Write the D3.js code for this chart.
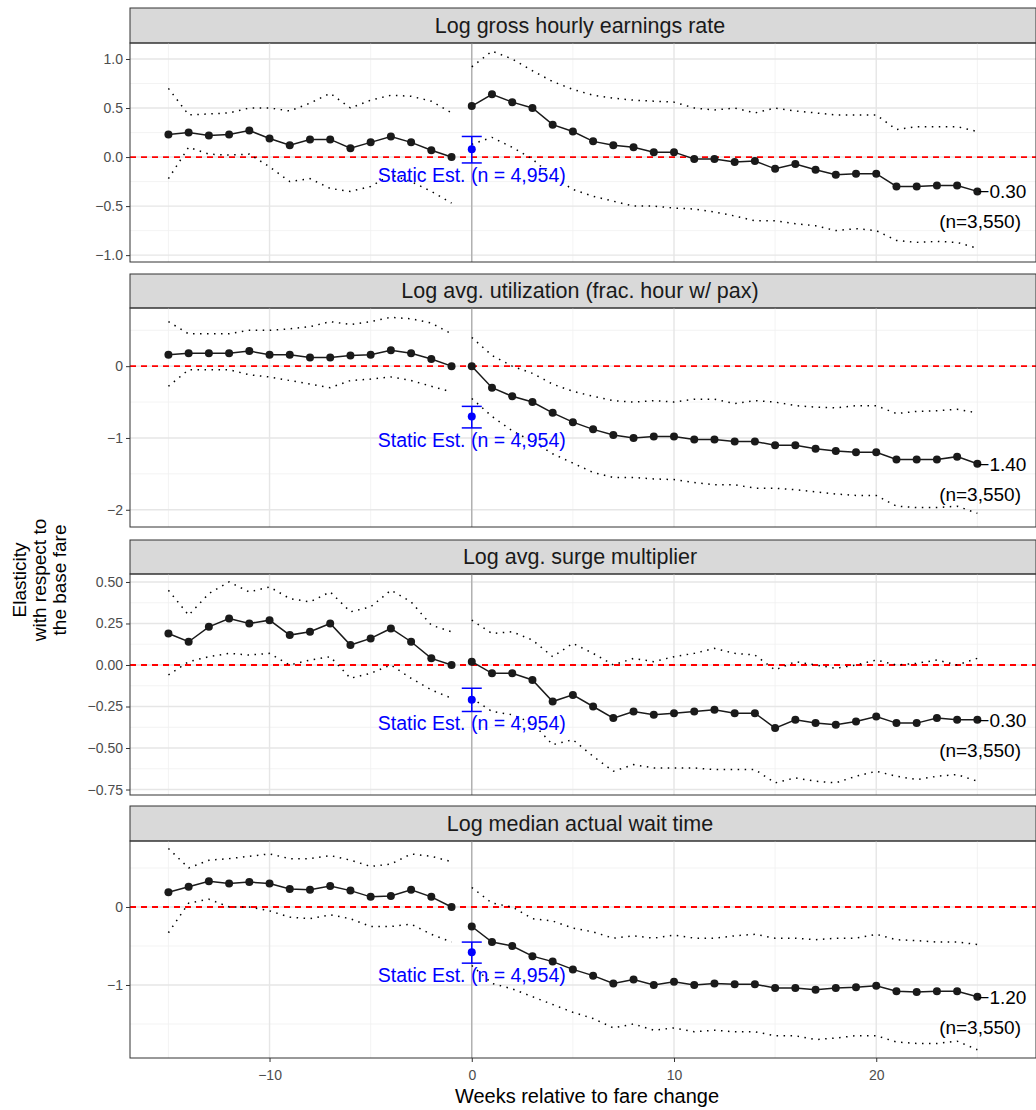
<!DOCTYPE html>
<html><head><meta charset="utf-8">
<script src="https://cdn.jsdelivr.net/npm/d3@7"></script>
<style>body{margin:0;background:#fff;font-family:"Liberation Sans",Arial,sans-serif}</style>
</head><body><svg id="c" width="1036" height="1110"></svg>
<script>
const weeks = d3.range(-15, 26);
const titles = ["Log gross hourly earnings rate","Log avg. utilization (frac. hour w/ pax)","Log avg. surge multiplier","Log median actual wait time"];
const est = [
 [0.23,0.25,0.22,0.23,0.27,0.19,0.12,0.18,0.18,0.09,0.15,0.21,0.15,0.07,0, 0.52,0.64,0.56,0.50,0.33,0.26,0.16,0.12,0.10,0.05,0.05,-0.02,-0.02,-0.05,-0.04,-0.12,-0.07,-0.13,-0.18,-0.17,-0.17,-0.30,-0.30,-0.29,-0.29,-0.35],
 [0.16,0.18,0.18,0.18,0.21,0.16,0.16,0.12,0.12,0.15,0.16,0.22,0.18,0.10,0, 0,-0.30,-0.42,-0.50,-0.65,-0.78,-0.88,-0.96,-1.00,-0.98,-0.98,-1.02,-1.02,-1.05,-1.05,-1.10,-1.10,-1.15,-1.18,-1.20,-1.20,-1.30,-1.30,-1.30,-1.26,-1.36],
 [0.19,0.14,0.23,0.28,0.25,0.27,0.18,0.20,0.25,0.12,0.16,0.22,0.14,0.04,0, 0.02,-0.05,-0.05,-0.09,-0.22,-0.18,-0.25,-0.32,-0.28,-0.30,-0.29,-0.28,-0.27,-0.29,-0.29,-0.38,-0.33,-0.35,-0.36,-0.34,-0.31,-0.35,-0.35,-0.32,-0.33,-0.33],
 [0.19,0.26,0.33,0.30,0.32,0.30,0.23,0.22,0.27,0.21,0.13,0.14,0.22,0.13,0, -0.25,-0.45,-0.50,-0.63,-0.70,-0.80,-0.88,-0.98,-0.93,-1.00,-0.96,-1.00,-0.98,-0.99,-0.99,-1.04,-1.04,-1.06,-1.04,-1.03,-1.01,-1.08,-1.09,-1.08,-1.08,-1.15]
];
const upper = [
 [0.70,0.43,0.44,0.45,0.50,0.50,0.47,0.55,0.65,0.50,0.58,0.63,0.62,0.57,0.45, 0.92,1.08,1.00,0.88,0.77,0.69,0.63,0.60,0.58,0.57,0.56,0.50,0.48,0.50,0.45,0.50,0.47,0.45,0.43,0.43,0.43,0.28,0.31,0.31,0.31,0.26],
 [0.62,0.45,0.45,0.45,0.50,0.50,0.52,0.55,0.62,0.58,0.62,0.68,0.66,0.60,0.45, 0.40,0.15,0,-0.10,-0.25,-0.35,-0.42,-0.48,-0.50,-0.48,-0.50,-0.46,-0.46,-0.52,-0.48,-0.50,-0.55,-0.57,-0.58,-0.55,-0.55,-0.66,-0.63,-0.62,-0.60,-0.65],
 [0.45,0.30,0.43,0.50,0.44,0.47,0.40,0.38,0.44,0.32,0.35,0.45,0.38,0.24,0.20, 0.27,0.19,0.20,0.15,0.05,0.13,0.07,0,0.04,0.02,0.05,0.07,0.10,0.07,0.06,-0.03,0.02,0,-0.02,0,0.03,0,0.01,0.03,0,0.04],
 [0.75,0.50,0.60,0.62,0.65,0.68,0.62,0.62,0.66,0.60,0.52,0.55,0.68,0.65,0.58, 0.25,0.05,0,-0.15,-0.18,-0.27,-0.32,-0.40,-0.37,-0.40,-0.36,-0.40,-0.40,-0.37,-0.35,-0.40,-0.40,-0.42,-0.40,-0.40,-0.35,-0.42,-0.43,-0.45,-0.45,-0.48]
];
const lower = [
 [-0.22,0.10,0.03,0.02,0.03,-0.10,-0.25,-0.22,-0.32,-0.35,-0.30,-0.18,-0.25,-0.35,-0.47, 0.13,0.20,0.10,-0.02,-0.20,-0.33,-0.40,-0.45,-0.50,-0.50,-0.52,-0.53,-0.56,-0.60,-0.65,-0.65,-0.68,-0.70,-0.75,-0.73,-0.75,-0.85,-0.87,-0.86,-0.87,-0.93],
 [-0.28,-0.05,-0.05,-0.05,-0.12,-0.15,-0.20,-0.25,-0.30,-0.20,-0.18,-0.15,-0.20,-0.28,-0.36, -0.45,-0.70,-0.90,-1.05,-1.22,-1.35,-1.48,-1.55,-1.55,-1.57,-1.58,-1.62,-1.65,-1.65,-1.70,-1.70,-1.72,-1.75,-1.78,-1.80,-1.80,-1.95,-1.97,-1.97,-1.95,-2.05],
 [-0.06,0.02,0.05,0.07,0.06,0.07,0,0.03,0.05,-0.08,-0.05,0,-0.08,-0.15,-0.20, -0.20,-0.28,-0.30,-0.35,-0.48,-0.45,-0.55,-0.64,-0.60,-0.62,-0.62,-0.62,-0.63,-0.63,-0.63,-0.71,-0.68,-0.70,-0.71,-0.67,-0.64,-0.67,-0.69,-0.67,-0.66,-0.70],
 [-0.33,0.05,0.10,0,0,-0.05,-0.13,-0.15,-0.10,-0.15,-0.25,-0.25,-0.22,-0.35,-0.45, -0.75,-0.98,-1.05,-1.15,-1.25,-1.35,-1.43,-1.55,-1.50,-1.58,-1.55,-1.60,-1.58,-1.60,-1.60,-1.65,-1.65,-1.70,-1.68,-1.65,-1.65,-1.73,-1.75,-1.75,-1.72,-1.83]
];
const staticEst = [0.08,-0.70,-0.21,-0.58];
const staticLo = [-0.06,-0.86,-0.28,-0.72];
const staticHi = [0.21,-0.56,-0.14,-0.45];
const endLabels = ["-0.30","-1.40","-0.30","-1.20"];
const yDomains = [[-1.07,1.163],[-2.24,0.81],[-0.783,0.548],[-1.936,0.846]];
const yTicks = [[-1,-0.5,0,0.5,1],[-2,-1,0],[-0.75,-0.5,-0.25,0,0.25,0.5],[-1,0]];
const yFmt = [d3.format(".1f"), d3.format("d"), d3.format(".2f"), d3.format("d")];
const xTicks = [-10,0,10,20];

const svg = d3.select("#c");
const L = 130, R = 1036;
const panels = [[8,43,262],[274,308,527],[540,574,795],[806,841,1058]];
const x = d3.scaleLinear().domain([-16.9,27.9]).range([L,R]);
const minus = s => s.replace("-","\u2212");

panels.forEach(([st,top,bot],i)=>{
  const y = d3.scaleLinear().domain(yDomains[i]).range([bot,top]);
  const g = svg.append("g");
  // strip
  g.append("rect").attr("x",L).attr("y",st).attr("width",R-L).attr("height",top-st)
    .attr("fill","#d9d9d9").attr("stroke","#333").attr("stroke-width",1);
  g.append("text").attr("x",(L+R)/2-3).attr("y",(st+top)/2+7).attr("text-anchor","middle")
    .attr("font-size",21.5).attr("fill","#1a1a1a").text(titles[i]);
  // grid
  const tk = yTicks[i];
  const minors = [];
  for(let k=0;k<tk.length-1;k++) minors.push((tk[k]+tk[k+1])/2);
  const st2 = tk[1]-tk[0];
  [tk[0]-st2/2, tk[tk.length-1]+st2/2].forEach(v=>{ if(v>yDomains[i][0]&&v<yDomains[i][1]) minors.push(v); });
  g.selectAll(".ym").data(minors).join("line").attr("x1",L).attr("x2",R).attr("y1",d=>y(d)).attr("y2",d=>y(d))
    .attr("stroke","#f0f0f0").attr("stroke-width",0.8);
  g.selectAll(".xm").data([-15,-5,5,15,25]).join("line").attr("y1",top).attr("y2",bot).attr("x1",d=>x(d)).attr("x2",d=>x(d))
    .attr("stroke","#f0f0f0").attr("stroke-width",0.8);
  g.selectAll(".yM").data(tk).join("line").attr("x1",L).attr("x2",R).attr("y1",d=>y(d)).attr("y2",d=>y(d))
    .attr("stroke","#e6e6e6").attr("stroke-width",1.4);
  g.selectAll(".xM").data(xTicks).join("line").attr("y1",top).attr("y2",bot).attr("x1",d=>x(d)).attr("x2",d=>x(d))
    .attr("stroke","#e6e6e6").attr("stroke-width",1.4);
  // zero lines
  g.append("line").attr("x1",x(0)).attr("x2",x(0)).attr("y1",top).attr("y2",bot).attr("stroke","#a6a6a6").attr("stroke-width",1.2);
  g.append("line").attr("x1",L).attr("x2",R).attr("y1",y(0)).attr("y2",y(0)).attr("stroke","#ff0000")
    .attr("stroke-width",1.8).attr("stroke-dasharray","6,5");
  // y axis
  const ax = g.append("g").attr("transform",`translate(${L},0)`)
    .call(d3.axisLeft(y).tickValues(tk).tickFormat(d=>minus(yFmt[i](d))).tickSize(4));
  ax.select(".domain").remove();
  ax.selectAll("line").attr("stroke","#333");
  ax.selectAll("text").attr("font-size",14).attr("fill","#4d4d4d").attr("font-family","Liberation Sans, Arial");
  // lines by segment (pre / post)
  const pts = weeks.map((w,k)=>({w,e:est[i][k],u:upper[i][k],l:lower[i][k]}));
  const pre = pts.filter(d=>d.w<0), post = pts.filter(d=>d.w>=0);
  [pre,post].forEach(seg=>{
    ["u","l"].forEach(key=>{
      g.append("path").datum(seg).attr("d",d3.line().x(d=>x(d.w)).y(d=>y(d[key])))
        .attr("fill","none").attr("stroke","#000").attr("stroke-width",1.5).attr("stroke-dasharray","1.5,5.5");
    });
    g.append("path").datum(seg).attr("d",d3.line().x(d=>x(d.w)).y(d=>y(d.e)))
      .attr("fill","none").attr("stroke","#1a1a1a").attr("stroke-width",1.5);
  });
  g.selectAll(".pt").data(pts).join("circle").attr("cx",d=>x(d.w)).attr("cy",d=>y(d.e)).attr("r",4).attr("fill","#1a1a1a");
  // static estimate
  const sx = x(0);
  g.append("line").attr("x1",sx).attr("x2",sx).attr("y1",y(staticLo[i])).attr("y2",y(staticHi[i])).attr("stroke","#0000ff").attr("stroke-width",1.5);
  [staticLo[i],staticHi[i]].forEach(v=>g.append("line").attr("x1",sx-10).attr("x2",sx+10).attr("y1",y(v)).attr("y2",y(v)).attr("stroke","#0000ff").attr("stroke-width",1.5));
  g.append("circle").attr("cx",sx).attr("cy",y(staticEst[i])).attr("r",4).attr("fill","#0000ff");
  g.append("text").attr("x",sx).attr("y",y(staticLo[i])+19).attr("text-anchor","middle")
    .attr("font-size",19.5).attr("fill","#0000ff").text("Static Est. (n = 4,954)");
  // end labels
  const last = pts[pts.length-1];
  g.append("text").attr("x",x(25)+1).attr("y",y(last.e)+7).attr("font-size",19).attr("fill","#000").text(minus(endLabels[i]));
  g.append("text").attr("x",1021).attr("y",y(last.e)+37).attr("text-anchor","end").attr("font-size",19).attr("fill","#000").text("(n=3,550)");
  // border
  g.append("rect").attr("x",L).attr("y",top).attr("width",R-L).attr("height",bot-top).attr("fill","none").attr("stroke","#333").attr("stroke-width",1);
});

// x axis
const xa = svg.append("g").attr("transform",`translate(0,1058)`).call(d3.axisBottom(x).tickValues(xTicks).tickFormat(d=>minus(String(d))).tickSize(4));
xa.select(".domain").remove();
xa.selectAll("line").attr("stroke","#333");
xa.selectAll("text").attr("font-size",14).attr("fill","#4d4d4d").attr("dy","1.1em");
svg.append("text").attr("x",587).attr("y",1103).attr("text-anchor","middle").attr("font-size",20).text("Weeks relative to fare change");
const yt = svg.append("text").attr("transform","translate(40,580) rotate(-90)").attr("text-anchor","middle").attr("font-size",19);
["Elasticity","with respect to","the base fare"].forEach((s,k)=>yt.append("tspan").attr("x",0).attr("dy",k?20:-14).text(s));
</script></body></html>
